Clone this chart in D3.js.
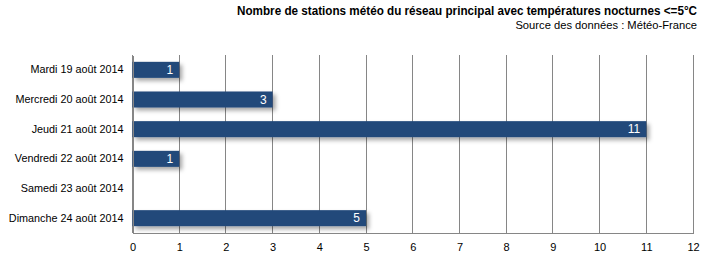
<!DOCTYPE html>
<html>
<head>
<meta charset="utf-8">
<script src="https://cdn.jsdelivr.net/npm/d3@7"></script>
<style>
  body { margin: 0; background: #fff; }
  svg text { font-family: "Liberation Sans", Arial, sans-serif; }
</style>
</head>
<body>
<div id="chart"></div>
<script>
// Data
const days = ["Mardi 19 août 2014", "Mercredi 20 août 2014", "Jeudi 21 août 2014",
              "Vendredi 22 août 2014", "Samedi 23 août 2014", "Dimanche 24 août 2014"];
const stations = [1, 3, 11, 1, 0, 5];
const xTicks = [0, 1, 2, 3, 4, 5, 6, 7, 8, 9, 10, 11, 12];

const width = 715;
const height = 262;
const margin = {top: 55, right: 22, bottom: 29, left: 132.5};

const svg = d3.select("#chart")
    .append("svg")
    .attr("width", width)
    .attr("height", height);

// drop shadow for bars
const filter = svg.append("defs").append("filter")
    .attr("id", "shadow")
    .attr("x", "-5%").attr("y", "-30%")
    .attr("width", "120%").attr("height", "180%");
filter.append("feDropShadow")
    .attr("dx", 3).attr("dy", 3)
    .attr("stdDeviation", 2)
    .attr("flood-color", "#000")
    .attr("flood-opacity", 0.35);

const xScale = d3.scaleLinear()
    .domain([0, 12])
    .range([margin.left, width - margin.right]);

const yScale = d3.scaleBand()
    .domain(days)
    .range([margin.top, height - margin.bottom])
    .paddingInner(0.46)
    .paddingOuter(0.23);

// Titles
svg.append("text")
    .attr("x", 697)
    .attr("y", 15)
    .attr("text-anchor", "end")
    .attr("textLength", 460)
    .attr("lengthAdjust", "spacingAndGlyphs")
    .style("font-weight", "bold")
    .style("font-size", "12.5px")
    .attr("fill", "#000")
    .text("Nombre de stations météo du réseau principal avec températures nocturnes <=5°C");

svg.append("text")
    .attr("x", 697)
    .attr("y", 29)
    .attr("text-anchor", "end")
    .style("font-size", "11.2px")
    .attr("fill", "#000")
    .text("Source des données : Météo-France");

// Grid lines
svg.append("g")
    .selectAll("line")
    .data(xTicks)
    .enter()
    .append("line")
    .attr("x1", d => xScale(d))
    .attr("x2", d => xScale(d))
    .attr("y1", margin.top)
    .attr("y2", height - margin.bottom)
    .attr("stroke", "#868686")
    .attr("stroke-width", 1)
    .attr("shape-rendering", "crispEdges");

const rows = days.map((day, i) => ({day, value: stations[i]})).filter(d => d.value > 0);

// Bars
svg.append("g")
    .selectAll("rect")
    .data(rows)
    .enter()
    .append("rect")
    .attr("x", xScale(0))
    .attr("y", d => yScale(d.day))
    .attr("width", d => xScale(d.value) - xScale(0))
    .attr("height", yScale.bandwidth())
    .attr("fill", "#23497a")
    .attr("filter", "url(#shadow)");

// Value labels
svg.append("g")
    .selectAll("text")
    .data(rows)
    .enter()
    .append("text")
    .attr("x", d => xScale(d.value) - 6)
    .attr("y", d => yScale(d.day) + yScale.bandwidth() / 2)
    .attr("dy", "0.36em")
    .attr("text-anchor", "end")
    .style("font-size", "12px")
    .attr("fill", "#fff")
    .text(d => d.value);

// Axes
const xAxis = svg.append("g")
    .attr("transform", `translate(0, ${height - margin.bottom})`)
    .call(d3.axisBottom(xScale).tickValues(xTicks).tickSize(0).tickPadding(10));
xAxis.select(".domain").attr("stroke", "#868686").attr("shape-rendering", "crispEdges");
xAxis.selectAll("text").style("font-size", "11px").attr("fill", "#000");

const yAxis = svg.append("g")
    .attr("transform", `translate(${margin.left}, 0)`)
    .call(d3.axisLeft(yScale).tickSize(0).tickPadding(9));
yAxis.select(".domain").attr("stroke", "#868686").attr("shape-rendering", "crispEdges");
yAxis.selectAll("text")
    .style("font-size", "10.8px")
    .attr("fill", "#000");
</script>
</body>
</html>
